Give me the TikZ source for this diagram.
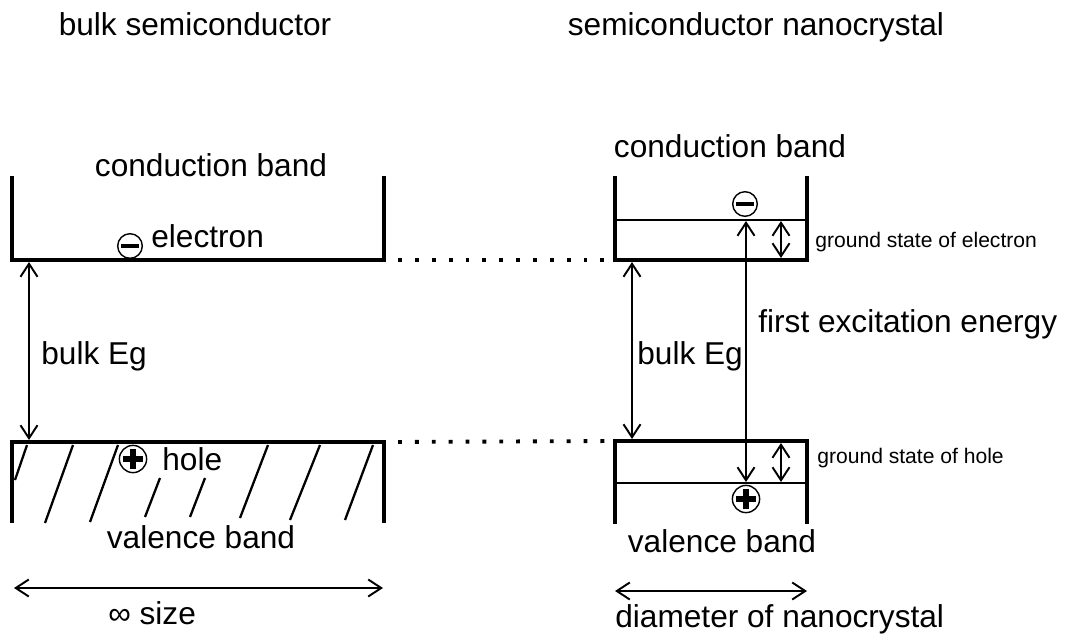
\documentclass[tikz,border=0pt]{standalone}
\usepackage{fontspec}
\setmainfont{Liberation Sans}
\usetikzlibrary{arrows.meta}

\begin{document}
\begin{tikzpicture}[
    x=0.02cm, y=-0.02cm,
    bandline/.style={line width=2.8pt},
    levelline/.style={line width=1.1pt},
    hatchline/.style={line width=1.3pt},
    dotline/.style={
      line width=2.2pt,
      dash pattern=on 2.2pt off 7.4pt,
      shorten <=8pt,
      shorten >=5pt
    },
    arrow/.style={
      {Straight Barb[length=2.6mm,width=3.4mm]}-{Straight Barb[length=2.6mm,width=3.4mm]},
      line width=1.1pt
    },
    txt/.style={font=\fontsize{18}{21}\selectfont, inner sep=0pt},
    smalltxt/.style={font=\fontsize{12}{14}\selectfont, inner sep=0pt},
    elecsym/.style={
      circle, draw, line width=0.8pt, minimum size=14pt, inner sep=0pt,
      path picture={
        \fill ([shift={(-5pt,-0.9pt)}]path picture bounding box.center)
          rectangle ([shift={(5pt,0.9pt)}]path picture bounding box.center);
      }
    },
    holesym/.style={
      circle, draw, line width=0.8pt, minimum size=15.5pt, inner sep=0pt,
      path picture={
        \fill ([shift={(-5.5pt,-1.9pt)}]path picture bounding box.center)
          rectangle ([shift={(5.5pt,1.9pt)}]path picture bounding box.center);
        \fill ([shift={(-1.9pt,-5.5pt)}]path picture bounding box.center)
          rectangle ([shift={(1.9pt,5.5pt)}]path picture bounding box.center);
      }
    }]

    \useasboundingbox (0,0) rectangle (1065,637);

    % Titles
    \node[txt, anchor=base] (titlebulk) at (195,35) {bulk semiconductor};
    \node[txt, anchor=base] (titlenano) at (756,35) {semiconductor nanocrystal};

    % Bulk semiconductor bands
    \draw[bandline] (12,176) -- (12,260) coordinate (cbL) -- (384,260) coordinate (cbR) -- (384,176);
    \draw[bandline] (12,523) -- (12,442) coordinate (vbL) -- (384,442) coordinate (vbR) -- (384,523);
    \foreach \xa/\ya/\xb/\yb in {15/480/27/445, 45/523/73/445, 90/522/118/445, 145/517/160/478,
                                 190/517/205/478, 240/518/268/445, 290/520/320/445, 345/520/373/445}
      \draw[hatchline] (\xa,\ya) -- (\xb,\yb);

    \node[txt, anchor=base] (cbtextbulk) at (211,176) {conduction band};
    \node[elecsym] (elecbulk) at (130,246) {};
    \node[txt, anchor=base west] (electext) at (151,247) {electron};
    \node[holesym] (holebulk) at (133,459) {};
    \node[txt, anchor=base west] (holetext) at (162,470) {hole};
    \node[txt, anchor=base] (vbtextbulk) at (201,548) {valence band};

    \coordinate (egtopbulk) at (29,262);
    \coordinate (egbotbulk) at (29,440);
    \draw[arrow] (egtopbulk) -- (egbotbulk);
    \node[txt, anchor=base west] (egbulk) at (41,364) {bulk Eg};

    \coordinate (sizeL) at (14,588);
    \coordinate (sizeR) at (383,588);
    \draw[arrow] (sizeL) -- (sizeR);
    \node[txt, anchor=base west] (sizetext) at (108,624) {∞ size};

    % Nanocrystal bands with discrete levels
    \draw[bandline] (615,176) -- (615,260) coordinate (ncbL) -- (807,260) coordinate (ncbR) -- (807,176);
    \draw[levelline] (615,220) coordinate (elevL) -- (807,220) coordinate (elevR);
    \draw[bandline] (615,524) -- (615,441) coordinate (nvbL) -- (807,441) coordinate (nvbR) -- (807,524);
    \draw[levelline] (615,483) coordinate (hlevL) -- (807,483) coordinate (hlevR);

    \node[txt, anchor=base] (cbtextnano) at (730,157) {conduction band};
    \node[elecsym] (elecnano) at (745,204) {};
    \node[holesym] (holenano) at (746,499) {};
    \node[txt, anchor=base] (vbtextnano) at (722,552) {valence band};

    % Dotted band edge guides
    \draw[dotline] (cbR) -- (ncbL);
    \draw[dotline] (vbR) -- (nvbL);

    % Energy arrows
    \coordinate (egtopnano) at (632,262);
    \coordinate (egbotnano) at (632,439);
    \draw[arrow] (egtopnano) -- (egbotnano);
    \node[txt, anchor=base west] (egnano) at (637,364) {bulk Eg};

    \coordinate (exctop) at (746,221);
    \coordinate (excbot) at (746,482);
    \draw[arrow] (exctop) -- (excbot);
    \node[txt, anchor=base west] (exctext) at (758,332) {first excitation energy};

    \coordinate (gsetop) at (781,221);
    \coordinate (gsebot) at (781,258);
    \draw[arrow] (gsetop) -- (gsebot);
    \node[smalltxt, anchor=base west] (gsetext) at (815,247) {ground state of electron};

    \coordinate (gshtop) at (781,443);
    \coordinate (gshbot) at (781,482);
    \draw[arrow] (gshtop) -- (gshbot);
    \node[smalltxt, anchor=base west] (gshtext) at (817,463) {ground state of hole};

    \coordinate (diamL) at (615,591);
    \coordinate (diamR) at (807,591);
    \draw[arrow] (diamL) -- (diamR);
    \node[txt, anchor=base west] (diamtext) at (615,627) {diameter of nanocrystal};
  \end{tikzpicture}
\end{document}
